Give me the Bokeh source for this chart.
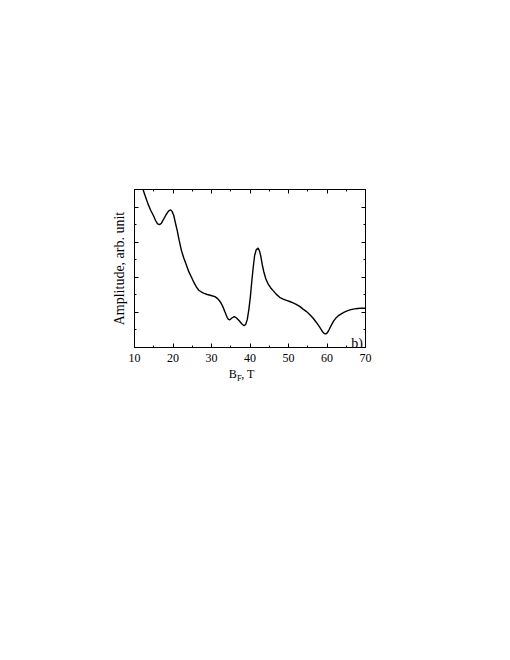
from bokeh.plotting import figure
from bokeh.layouts import column
from bokeh.models import LinearAxis, Label, Range1d, FixedTicker
from bokeh.core.properties import value
from bokeh.embed import file_html
from bokeh.resources import INLINE

# Data
bf = [12.0, 12.3, 12.9, 13.5, 14.2, 14.9, 15.5, 16.0, 16.5, 17.0, 17.5, 18.1, 18.6,
      19.0, 19.4, 19.8, 20.2, 20.6, 21.1, 21.6, 22.2, 22.8, 23.5, 24.1, 24.8, 25.4,
      26.1, 26.7, 27.4, 28.1, 28.9, 29.9, 30.9, 31.5, 32.0, 32.5, 33.0, 33.5, 34.05,
      34.4, 34.75, 35.3, 35.9, 36.5, 37.2, 37.9, 38.5, 38.9, 39.3, 39.7, 40.1, 40.4,
      40.8, 41.2, 41.6, 42.1, 42.5, 42.8, 43.2, 43.6, 44.1, 44.7, 45.3, 46.0, 46.8,
      47.7, 48.6, 49.5, 50.3, 51.2, 52.0, 52.9, 53.7, 54.6, 55.5, 56.35, 57.2, 58.1,
      58.5, 58.9, 59.3, 59.6, 59.9, 60.2, 60.6, 61.1, 61.7, 62.4, 63.0, 63.7, 64.5,
      65.4, 66.2, 67.15, 68.0, 68.9, 70.0]
amp = [4.62, 4.47, 4.28, 4.09, 3.91, 3.76, 3.61, 3.52, 3.50, 3.54, 3.64, 3.76, 3.85,
       3.90, 3.92, 3.87, 3.76, 3.56, 3.33, 3.05, 2.76, 2.55, 2.34, 2.16, 2.00, 1.86,
       1.72, 1.63, 1.58, 1.54, 1.51, 1.48, 1.45, 1.40, 1.34, 1.26, 1.15, 1.01, 0.86,
       0.80, 0.79, 0.84, 0.88, 0.84, 0.76, 0.67, 0.62, 0.66, 0.80, 1.08, 1.45, 1.81,
       2.25, 2.62, 2.78, 2.83, 2.74, 2.60, 2.35, 2.15, 1.96, 1.81, 1.71, 1.62, 1.52,
       1.43, 1.38, 1.34, 1.31, 1.27, 1.23, 1.17, 1.10, 1.03, 0.94, 0.84, 0.72, 0.58,
       0.51, 0.44, 0.40, 0.39, 0.40, 0.44, 0.52, 0.63, 0.75, 0.85, 0.91, 0.96, 1.01,
       1.05, 1.08, 1.10, 1.11, 1.12, 1.12]

x_ticks = [10, 20, 30, 40, 50, 60, 70]
x_minor = [15, 25, 35, 45, 55, 65]
y_ticks = [0, 1, 2, 3, 4]
y_minor = [0.5, 1.5, 2.5, 3.5, 4.5]

# x-axis title pieces: B with subscript F, then ", T"
xlab_text = ["B", "F", ", T"]
xlab_x = [34.5, 36.6, 37.75]
xlab_y = [20.5, 16.5, 20.5]
xlab_size = ["12px", "8.5px", "12px"]

FONT = "Liberation Serif"
LEFT, TOP, FW, FH = 134, 189, 231, 158

xr = Range1d(10, 70)
p = figure(frame_width=FW, frame_height=FH,
           min_border_left=LEFT, min_border_top=TOP,
           min_border_right=40, min_border_bottom=0,
           x_range=xr, y_range=Range1d(0, 4.5),
           output_backend="svg", toolbar_location=None,
           x_axis_location=None, y_axis_location=None)
p.grid.visible = False
p.outline_line_color = "black"
p.background_fill_color = "white"
p.border_fill_color = "white"

def make_axis(ticks, minor, labels):
    ax = LinearAxis(ticker=FixedTicker(ticks=ticks, minor_ticks=minor))
    ax.axis_line_color = "black"
    ax.axis_line_width = 1
    ax.major_tick_in = 4
    ax.major_tick_out = 0
    ax.minor_tick_in = 2
    ax.minor_tick_out = 0
    ax.major_tick_line_color = "black"
    ax.minor_tick_line_color = "black"
    ax.major_label_text_font = FONT
    ax.major_label_text_font_size = "12px"
    ax.major_label_text_color = "black"
    if labels:
        ax.major_label_standoff = 6
    else:
        ax.major_label_overrides = {t: "" for t in ticks}
        ax.major_label_standoff = 0
    return ax

p.add_layout(make_axis(x_ticks, x_minor, True), "below")
p.add_layout(make_axis(x_ticks, x_minor, False), "above")
yl = make_axis(y_ticks, y_minor, False)
yl.axis_label = "Amplitude, arb. unit"
yl.axis_label_text_font = FONT
yl.axis_label_text_font_size = "14px"
yl.axis_label_text_font_style = "normal"
yl.axis_label_text_color = "black"
yl.axis_label_standoff = 8
p.add_layout(yl, "left")
p.add_layout(make_axis(y_ticks, y_minor, False), "right")

p.line(bf, amp, line_color="black", line_width=1.4)

# panel tag
p.add_layout(Label(x=69.3, y=0.1, text="b)", text_align="right",
                   text_baseline="alphabetic", text_font=FONT,
                   text_font_size="14px", text_color="black"))

# strip below the plot that carries the x-axis title (1 unit = 1 px)
p2 = figure(frame_width=FW, frame_height=30,
            min_border_left=LEFT, min_border_top=0,
            min_border_right=40, min_border_bottom=0,
            x_range=xr, y_range=Range1d(0, 30),
            output_backend="svg", toolbar_location=None,
            x_axis_location=None, y_axis_location=None)
p2.grid.visible = False
p2.outline_line_color = None
p2.background_fill_color = "white"
p2.border_fill_color = "white"
for t, xx, yy, fs in zip(xlab_text, xlab_x, xlab_y, xlab_size):
    p2.text(x=[xx], y=[yy], text=[t], text_font=value(FONT), text_font_size=fs,
            text_align="left", text_baseline="alphabetic", text_color="black")

open("out.html", "w").write(file_html(column(p, p2, spacing=0), INLINE))
